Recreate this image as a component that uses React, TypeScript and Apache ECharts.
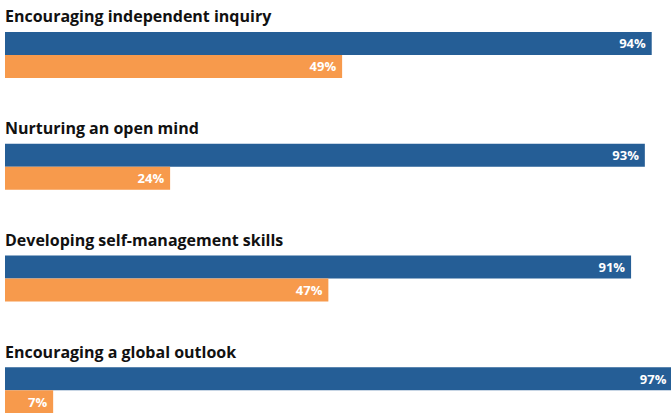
import React, { useEffect, useRef } from "react";
import * as echarts from "echarts";

const categories = [
  "Encouraging independent inquiry",
  "Nurturing an open mind",
  "Developing self-management skills",
  "Encouraging a global outlook",
];
const blueValues = [94, 93, 91, 97];
const orangeValues = [49, 24, 47, 7];

export default function App() {
  const ref = useRef<HTMLDivElement>(null);
  useEffect(() => {
    if (!ref.current) return;
    const chart = echarts.init(ref.current, null, { renderer: "svg" });
    const label = {
      show: true,
      position: "insideRight",
      distance: 6,
      color: "#ffffff",
      fontFamily: "Open Sans",
      fontWeight: 700,
      fontSize: 13,
      formatter: "{c}%",
    };
    chart.setOption({
      animation: false,
      grid: {
        left: 5,
        top: -1,
        width: 688,
        height: 447,
        containLabel: false,
        outerBoundsMode: "none",
      },
      xAxis: {
        type: "value",
        min: 0,
        max: 100,
        show: false,
      },
      yAxis: {
        type: "category",
        data: categories,
        inverse: true,
        axisLine: { show: false },
        axisTick: { show: false },
        splitLine: { show: false },
        axisLabel: {
          inside: true,
          margin: 0,
          interval: 0,
          showMinLabel: true,
          showMaxLabel: true,
          hideOverlap: false,
          align: "left",
          verticalAlign: "middle",
          lineHeight: 77,
          formatter: (v: string) => v + "\n ",
          color: "#111111",
          fontFamily: "Open Sans",
          fontWeight: 700,
          fontSize: 16,
        },
        z: 10,
      },
      series: [
        {
          type: "bar",
          data: blueValues,
          barWidth: 23,
          barGap: "0%",
          itemStyle: { color: "#255E96" },
          label,
        },
        {
          type: "bar",
          data: orangeValues,
          barWidth: 23,
          itemStyle: { color: "#F79A4C" },
          label,
        },
      ],
    });
    return () => chart.dispose();
  }, []);
  return (
    <div
      ref={ref}
      style={{ position: "absolute", left: 0, top: 0, width: 671, height: 413 }}
    />
  );
}
